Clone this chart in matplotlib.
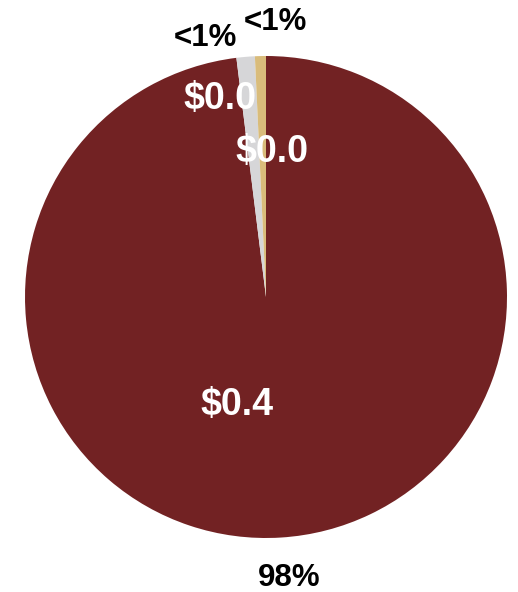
import matplotlib
matplotlib.use("Agg")
import matplotlib.pyplot as plt

# Slice values (in $ millions) and their labels
categories = ["Primary", "Secondary", "Other"]
values = [0.4, 0.005, 0.003]
value_labels = ["$0.4", "$0.0", "$0.0"]
pct_labels = ["98%", "<1%", "<1%"]
colors = ["#722223", "#D6D6D8", "#D9BC7B"]

# Label anchor points in axis units (pie radius = 1)
value_pos = [(-0.12, -0.45), (-0.19, 0.82), (0.025, 0.60)]
pct_pos = [(0.095, -1.165), (-0.25, 1.075), (0.04, 1.14)]

plt.rcParams["font.family"] = ["Liberation Sans", "DejaVu Sans"]

W, H = 518, 592
fig = plt.figure(figsize=(W / 100, H / 100), dpi=100)
cx, cy, r = 266, 297, 241
ax = fig.add_axes([(cx - r) / W, (H - cy - r) / H, 2 * r / W, 2 * r / H])

ax.pie(values, colors=colors, startangle=90, counterclock=False,
       radius=1.0, wedgeprops=dict(linewidth=0))
ax.set_xlim(-1, 1)
ax.set_ylim(-1, 1)
ax.set_aspect("equal")
ax.axis("off")

for (x, y), t in zip(value_pos, value_labels):
    ax.text(x, y, t, ha="center", va="center", color="white",
            fontsize=27, fontweight="bold", clip_on=False)
for (x, y), t in zip(pct_pos, pct_labels):
    ax.text(x, y, t, ha="center", va="center", color="black",
            fontsize=22.5, fontweight="bold", clip_on=False)

fig.savefig("out.png", dpi=100)
